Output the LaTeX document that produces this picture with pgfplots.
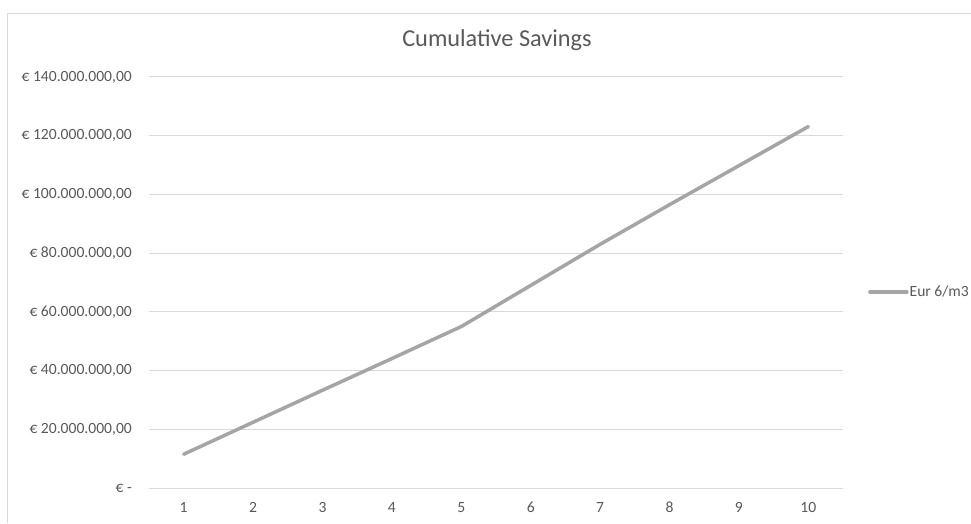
\documentclass[border=0pt]{standalone}
\usepackage{pgfplots}
\pgfplotsset{compat=1.18}
\usepackage{fontspec}
\setmainfont{Carlito}
\definecolor{txt}{HTML}{595959}
\definecolor{grd}{HTML}{D9D9D9}
\definecolor{ln}{HTML}{A5A5A5}
\begin{document}
\begin{tikzpicture}[x=1pt,y=1pt]
\path[use as bounding box] (0,0) rectangle (971,523);
\draw[grd, line width=1pt] (7,0) -- (7,509) -- (971,509);
\node[text=txt, font=\fontsize{24.3}{28}\selectfont] at (497,483) {Cumulative Savings};
\begin{axis}[
  at={(149pt,35pt)}, anchor=south west, scale only axis,
  width=694pt, height=411pt,
  xmin=0.5, xmax=10.5, ymin=0, ymax=140000000,
  scaled y ticks=false,
  axis line style={draw=none}, major tick length=0pt,
  xtick={1,2,3,4,5,6,7,8,9,10},
  xticklabels={1,2,3,4,5,6,7,8,9,10},
  ytick={0,20000000,40000000,60000000,80000000,100000000,120000000,140000000},
  yticklabels={{€ -\hspace{8pt}},{€ 20.000.000,00},{€ 40.000.000,00},{€ 60.000.000,00},{€ 80.000.000,00},{€ 100.000.000,00},{€ 120.000.000,00},{€ 140.000.000,00}},
  ymajorgrids, grid style={grd, line width=1pt},
  tick label style={text=txt, font=\fontsize{15.6}{19}\selectfont},
  yticklabel style={anchor=east, inner sep=0pt, xshift=-17pt},
  xticklabel style={anchor=base, inner sep=0pt, yshift=-24pt},
  legend style={at={(1.036,0.477)}, anchor=west, draw=none, fill=none, inner sep=0pt,
    font=\fontsize{15.6}{19}\selectfont, text=txt,
    nodes={inner sep=1pt}},
  legend image code/.code={\draw[#1] (0pt,0pt) -- (37pt,0pt);},
  clip=false,
]
\addplot[ln, line width=3.5pt, line join=round, line cap=round] coordinates {
(1,11500000) (2,22400000) (3,33300000) (4,44100000) (5,55000000)
(6,69000000) (7,83000000) (8,96500000) (9,109800000) (10,123100000)
};
\addlegendentry{Eur 6/m3}
\end{axis}
\end{tikzpicture}
\end{document}
